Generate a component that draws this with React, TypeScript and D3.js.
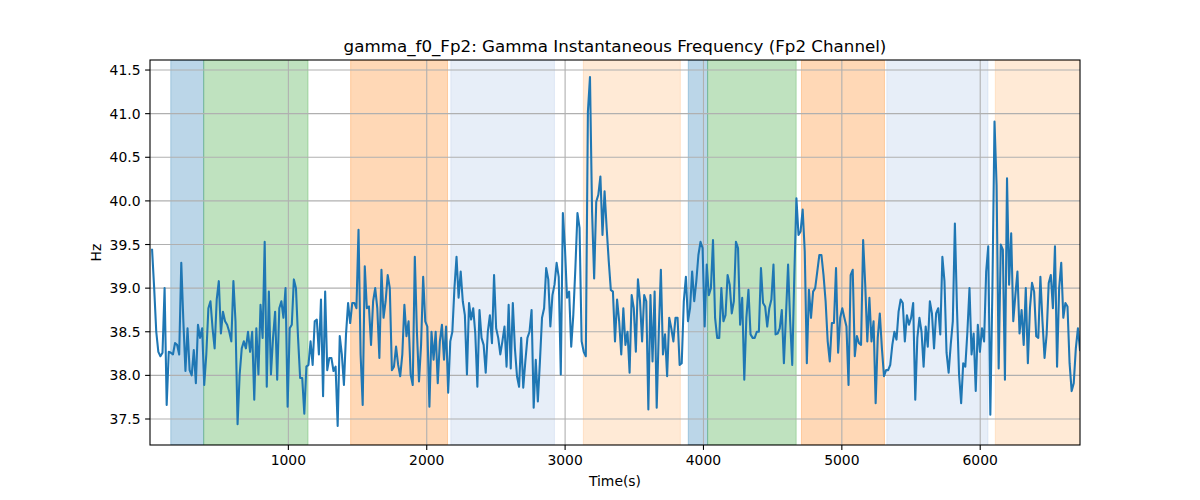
import React from "react";
import * as d3 from "d3";

const TITLE = "gamma_f0_Fp2: Gamma Instantaneous Frequency (Fp2 Channel)";
const X_LABEL = "Time(s)";
const Y_LABEL = "Hz";

const STEP_SECONDS = 15.07;
const hzValues: number[] = [
  39.44, 39.0, 38.5, 38.27, 38.22, 38.26, 39.0, 37.66, 38.27, 38.26, 38.24, 38.37, 38.35, 38.24, 39.29, 38.62, 38.05, 38.54, 38.06, 38.0, 38.29, 37.91, 38.58, 38.43, 38.54, 37.89, 38.24, 38.77, 38.85, 38.54, 38.31, 38.87, 39.08, 38.48, 38.73, 38.62, 38.58,
  38.5, 38.39, 39.08, 38.62, 37.44, 38.01, 38.31, 38.39, 38.31, 38.5, 38.27, 38.5, 37.72, 38.54, 38.01, 38.81, 38.43, 39.53, 37.87, 38.96, 38.01, 38.43, 38.73, 37.95, 38.77, 38.85, 38.66, 39.0, 37.64, 38.54, 38.58, 39.1, 39.0, 38.43, 37.97, 37.97, 37.56,
  38.1, 38.12, 38.39, 38.12, 38.62, 38.64, 38.24, 38.87, 37.76, 38.96, 38.06, 38.2, 38.2, 38.05, 38.1, 37.42, 38.45, 38.24, 37.89, 38.47, 38.83, 38.6, 38.83, 38.83, 38.77, 39.67, 38.24, 37.66, 39.25, 38.77, 38.79, 38.35, 38.85, 39.0, 38.77, 38.2, 39.21, 38.66,
  38.85, 39.15, 39.0, 38.06, 38.1, 38.33, 38.12, 37.99, 38.24, 38.81, 38.45, 38.62, 38.01, 37.89, 39.36, 38.5, 37.93, 38.35, 39.13, 38.62, 38.56, 37.64, 38.5, 38.18, 38.5, 37.91, 38.39, 38.58, 38.18, 38.56, 37.8, 38.39, 38.5, 39.0, 39.36, 38.89, 39.19, 38.85,
  38.69, 38.01, 38.83, 38.64, 38.77, 38.48, 37.87, 38.75, 38.43, 38.35, 38.03, 38.5, 38.69, 38.37, 39.15, 38.54, 38.43, 38.24, 38.39, 38.56, 38.1, 38.81, 38.08, 38.83, 38.31, 37.99, 37.87, 38.43, 37.86, 38.16, 38.43, 38.5, 38.75, 37.63, 38.18, 37.7,
  38.16, 38.66, 38.77, 39.23, 39.1, 38.56, 38.92, 39.04, 39.29, 39.13, 38.01, 39.86, 39.46, 38.89, 38.96, 38.33, 38.69, 39.23, 39.86, 39.69, 38.39, 38.27, 38.22, 41.02, 41.42, 39.88, 39.11, 39.99, 40.07, 40.28, 39.61, 40.11, 39.69, 39.31, 38.98, 38.96, 38.39,
  38.87, 38.62, 38.24, 38.77, 38.35, 38.5, 38.03, 38.92, 38.77, 38.27, 39.1, 38.85, 38.39, 38.92, 38.85, 37.61, 38.92, 38.16, 38.96, 37.63, 38.5, 39.21, 38.24, 38.47, 37.99, 38.66, 38.54, 38.39, 38.66, 38.66, 38.12, 38.14, 38.85, 39.13, 38.62, 38.77, 39.19,
  38.85, 39.08, 39.38, 39.53, 39.46, 38.56, 39.27, 38.92, 39.0, 39.55, 38.66, 38.43, 38.43, 39.0, 38.62, 38.69, 39.15, 39.04, 38.71, 38.85, 39.53, 39.46, 38.58, 38.89, 37.95, 38.66, 38.98, 38.47, 38.43, 38.43, 38.5, 38.5, 39.23, 38.83, 38.79, 38.56, 38.77, 38.87, 39.27,
  38.47, 38.48, 38.54, 38.75, 38.14, 38.69, 39.27, 38.62, 38.12, 39.15, 40.03, 39.61, 39.65, 39.9, 39.42, 38.14, 38.98, 38.66, 38.96, 39.0, 39.19, 39.38, 39.38, 39.15, 38.85, 38.39, 38.16, 38.6, 38.6, 39.23, 38.26, 38.66, 38.77, 38.66, 38.56, 37.89, 39.15,
  39.21, 38.22, 38.45, 38.37, 38.35, 39.55, 39.04, 38.39, 38.89, 38.39, 38.62, 37.68, 38.43, 38.71, 38.31, 37.99, 38.06, 38.06, 38.12, 38.35, 38.5, 38.41, 38.73, 38.87, 38.83, 38.39, 38.69, 38.58, 38.66, 38.83, 37.72, 38.43, 38.66, 38.5, 38.1, 38.56, 38.33, 38.85,
  38.71, 38.31, 38.71, 38.77, 38.47, 39.36, 39.08, 38.26, 38.03, 38.35, 38.62, 39.74, 38.77, 38.01, 37.68, 38.14, 38.1, 38.5, 39.0, 38.24, 38.48, 37.82, 38.58, 38.27, 38.54, 38.39, 39.19, 39.48, 37.55, 39.0, 40.91, 40.18, 38.08, 39.5, 39.44, 37.95, 40.26,
  39.04, 39.63, 38.62, 38.92, 39.19, 38.48, 38.75, 38.35, 39.0, 38.14, 38.77, 39.06, 38.96, 38.45, 38.43, 39.13, 38.62, 38.2, 38.47, 39.06, 39.15, 38.77, 39.48, 38.1, 39.0, 39.29, 38.66, 38.83, 38.79, 38.14, 37.82, 37.91, 38.31, 38.54, 38.29,
];

const spanStarts = [150, 388, 1450, 2174, 3132, 3890, 4030, 4708, 5325, 6109];
const spanEnds = [388, 1142, 2150, 2923, 3833, 4030, 4670, 5308, 6056, 6800];
const spanColors = ["#1f77b4", "#2ca02c", "#ff7f0e", "#aec7e8", "#ffbb78", "#1f77b4", "#2ca02c", "#ff7f0e", "#aec7e8", "#ffbb78"];

const xTicks = [1000, 2000, 3000, 4000, 5000, 6000];
const yTicks = [37.5, 38.0, 38.5, 39.0, 39.5, 40.0, 40.5, 41.0, 41.5];
const yDomain = [37.202, 41.615];

const W = 1200;
const H = 500;
const M = { left: 150, right: 1080, top: 60, bottom: 445 };
const FONT = "DejaVu Sans, sans-serif";

export default function App() {
  const times = hzValues.map((_, i) => (i + 1) * STEP_SECONDS);
  const tMax = d3.max(times) as number;
  const x = d3.scaleLinear().domain([0, tMax]).range([M.left, M.right]);
  const y = d3.scaleLinear().domain(yDomain).range([M.bottom, M.top]);
  const line = d3
    .line<number>()
    .x((_, i) => x(times[i]))
    .y((d) => y(d));

  return (
    <svg width={W} height={H} style={{ position: "absolute", left: 0, top: 0, background: "#fff" }} fontFamily={FONT}>
      <defs>
        <clipPath id="plotclip">
          <rect x={M.left} y={M.top} width={M.right - M.left} height={M.bottom - M.top} />
        </clipPath>
      </defs>
      <g clipPath="url(#plotclip)">
        {spanStarts.map((s, i) => (
          <rect
            key={"sp" + i}
            x={x(s)}
            y={M.top}
            width={Math.max(0, x(spanEnds[i]) - x(s))}
            height={M.bottom - M.top}
            fill={spanColors[i]}
            fillOpacity={0.3}
            stroke={spanColors[i]}
            strokeOpacity={0.3}
            strokeWidth={1}
          />
        ))}
        {xTicks.map((t) => (
          <line key={"gx" + t} x1={x(t)} x2={x(t)} y1={M.top} y2={M.bottom} stroke="#b0b0b0" strokeWidth={1.1} />
        ))}
        {yTicks.map((t) => (
          <line key={"gy" + t} x1={M.left} x2={M.right} y1={y(t)} y2={y(t)} stroke="#b0b0b0" strokeWidth={1.1} />
        ))}
        <path d={line(hzValues) || ""} fill="none" stroke="#1f77b4" strokeWidth={2.08} strokeLinejoin="round" strokeLinecap="square" />
      </g>
      <rect x={M.left} y={M.top} width={M.right - M.left} height={M.bottom - M.top} fill="none" stroke="#000" strokeWidth={1.1} />
      {xTicks.map((t) => (
        <g key={"xt" + t}>
          <line x1={x(t)} x2={x(t)} y1={M.bottom} y2={M.bottom + 4.9} stroke="#000" strokeWidth={1.1} />
          <text x={x(t)} y={M.bottom + 9.5} dy="0.76em" textAnchor="middle" fontSize={13.9} fill="#000">
            {String(t)}
          </text>
        </g>
      ))}
      {yTicks.map((t) => (
        <g key={"yt" + t}>
          <line x1={M.left - 4.9} x2={M.left} y1={y(t)} y2={y(t)} stroke="#000" strokeWidth={1.1} />
          <text x={M.left - 9.5} y={y(t)} dy="0.36em" textAnchor="end" fontSize={13.9} fill="#000">
            {t.toFixed(1)}
          </text>
        </g>
      ))}
      <text x={(M.left + M.right) / 2} y={486} textAnchor="middle" fontSize={13.9} fill="#000">
        {X_LABEL}
      </text>
      <text transform={`translate(101, ${(M.top + M.bottom) / 2}) rotate(-90)`} textAnchor="middle" fontSize={13.9} fill="#000">
        {Y_LABEL}
      </text>
      <text x={(M.left + M.right) / 2} y={52} textAnchor="middle" fontSize={16.7} fill="#000">
        {TITLE}
      </text>
    </svg>
  );
}
